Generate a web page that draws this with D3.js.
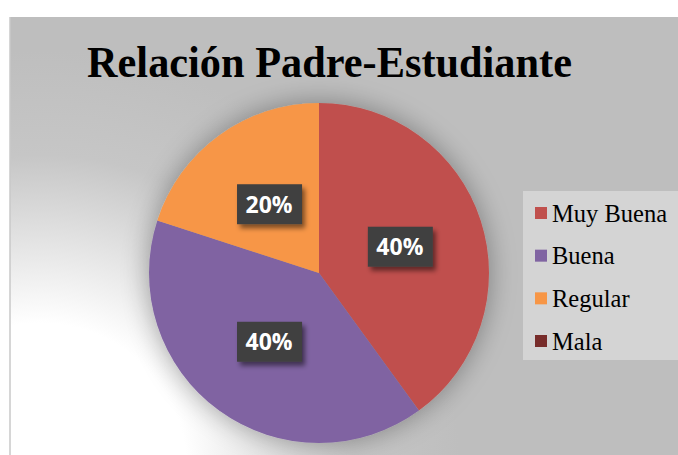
<html><head>
<script src="https://d3js.org/d3.v7.min.js"></script>
<style>
  body { margin: 0; background: #fff; }
</style>
</head>
<body>
<svg id="chart" width="678" height="455"></svg>
<script>
// data
const categories = ["Muy Buena", "Buena", "Regular", "Mala"];
const values = [40, 40, 20, 0];
const sliceColors = ["#c0504d", "#8064a2", "#f79646", "#772c2a"];
const chartTitle = "Relación Padre-Estudiante";

let svg = d3.select("#chart");
let defs = svg.append("defs");

// background: gray with a white glow from the bottom-left corner
let bg = defs.append("radialGradient").attr("id", "bgGlow")
  .attr("gradientUnits", "userSpaceOnUse")
  .attr("cx", 40).attr("cy", 470).attr("r", 420);
bg.append("stop").attr("offset", "0%").attr("stop-color", "#ffffff");
bg.append("stop").attr("offset", "35%").attr("stop-color", "#ffffff");
bg.append("stop").attr("offset", "75%").attr("stop-color", "#c6c6c6");
bg.append("stop").attr("offset", "100%").attr("stop-color", "#bebebe");

let pieShadow = defs.append("filter").attr("id", "pieShadow")
  .attr("x", "-30%").attr("y", "-30%").attr("width", "160%").attr("height", "160%");
pieShadow.append("feGaussianBlur").attr("in", "SourceAlpha").attr("stdDeviation", 14).attr("result", "b");
pieShadow.append("feComponentTransfer").attr("in", "b").attr("result", "c")
  .append("feFuncA").attr("type", "linear").attr("slope", 0.35);
let m1 = pieShadow.append("feMerge");
m1.append("feMergeNode").attr("in", "c");
m1.append("feMergeNode").attr("in", "SourceGraphic");

let boxShadow = defs.append("filter").attr("id", "boxShadow")
  .attr("x", "-30%").attr("y", "-30%").attr("width", "170%").attr("height", "170%");
boxShadow.append("feGaussianBlur").attr("in", "SourceAlpha").attr("stdDeviation", 2.5).attr("result", "b");
boxShadow.append("feOffset").attr("in", "b").attr("dx", 3).attr("dy", 4).attr("result", "o");
boxShadow.append("feComponentTransfer").attr("in", "o").attr("result", "c")
  .append("feFuncA").attr("type", "linear").attr("slope", 0.5);
let m2 = boxShadow.append("feMerge");
m2.append("feMergeNode").attr("in", "c");
m2.append("feMergeNode").attr("in", "SourceGraphic");

svg.append("rect")
  .attr("x", 10).attr("y", 17).attr("width", 668).attr("height", 438)
  .style("fill", "url(#bgGlow)");
svg.append("line")
  .attr("x1", 10).attr("x2", 10).attr("y1", 17).attr("y2", 455)
  .style("stroke", "#c8c8c8").style("stroke-width", 1.5);

// title (a little condensed in the original)
svg.append("text")
  .attr("x", 87).attr("y", 77)
  .attr("textLength", 485).attr("lengthAdjust", "spacingAndGlyphs")
  .style("font-family", "'Liberation Serif', 'Times New Roman', serif")
  .style("font-weight", "bold")
  .style("font-size", "44px")
  .style("fill", "#000")
  .text(chartTitle);

// pie
let radius = 170;
let pieLayer = svg.append("g").attr("transform", "translate(319,273)");
let pie = d3.pie().sort(null).value(d => d);
let arcs = pie(values);
let arc = d3.arc().innerRadius(0).outerRadius(radius);
let labelArc = d3.arc().innerRadius(radius * 0.5).outerRadius(radius * 0.5);
let total = d3.sum(values);

pieLayer.append("g").attr("filter", "url(#pieShadow)")
  .selectAll("path").data(arcs).join("path")
  .attr("d", arc)
  .style("fill", (d, i) => sliceColors[i]);

let labels = pieLayer.selectAll("g.lbl").data(arcs.filter(d => d.value > 0)).join("g")
  .attr("class", "lbl")
  .attr("transform", d => "translate(" + labelArc.centroid(d) + ")");
labels.append("rect")
  .attr("x", -32).attr("y", -20).attr("width", 65).attr("height", 40)
  .style("fill", "#404040")
  .attr("filter", "url(#boxShadow)");
labels.append("text")
  .attr("text-anchor", "middle").attr("dy", "0.36em")
  .style("font-family", "'Open Sans', sans-serif")
  .style("font-weight", "bold")
  .style("font-size", "23px")
  .style("fill", "#fff")
  .text(d => Math.round(d.value / total * 100) + "%");

// legend
let legend = svg.append("g").attr("transform", "translate(523,191)");
legend.append("rect")
  .attr("width", 155).attr("height", 169)
  .style("fill", "#d4d4d4");
let rowY = d3.scalePoint().domain(categories).range([22, 150]);
let rows = legend.selectAll("g.row").data(categories).join("g")
  .attr("class", "row")
  .attr("transform", d => "translate(12," + rowY(d) + ")");
rows.append("rect")
  .attr("x", 0).attr("y", -6).attr("width", 12).attr("height", 12)
  .style("fill", (d, i) => sliceColors[i]);
rows.append("text")
  .attr("x", 17).attr("dy", "0.35em")
  .style("font-family", "'Liberation Serif', 'Times New Roman', serif")
  .style("font-size", "24.5px")
  .style("fill", "#000")
  .text(d => d);
</script>
</body>
</html>
